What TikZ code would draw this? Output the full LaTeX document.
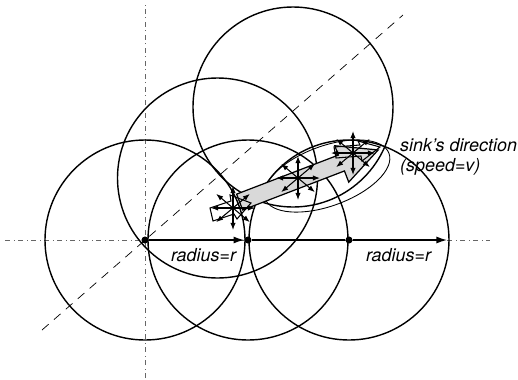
\documentclass[tikz,border=0pt]{standalone}
\usepackage{fontspec}
\setsansfont{TeX Gyre Heros}
\usetikzlibrary{arrows.meta}

\begin{document}
\begin{tikzpicture}[
    rangeline/.style={line width=0.8pt},
    axis/.style={line width=0.4pt, black!60, dash dot},
    dot/.style={circle, fill=black, inner sep=0pt, minimum size=4pt},
    lbl/.style={font=\sffamily\itshape\fontsize{10.2}{12}\selectfont},
    move/.style={line width=0.6pt, {Latex[length=4pt,width=3pt]}-{Latex[length=4pt,width=3pt]}}
  ]
  \useasboundingbox (-2.9,-2.78) rectangle (7.46,4.8);

  % axes and the diagonal
  \draw [axis] (-2.8,0) -- (6.9,0);
  \draw [axis] (0,-2.76) -- (0,4.7);
  \draw [line width=0.4pt, dash pattern=on 5pt off 4pt] (-2.06,-1.8) -- (5.16,4.5);

  % transmission ranges
  \draw [rangeline] (0,0) circle (2);
  \draw [rangeline] (2.06,0) circle (2);
  \draw [rangeline] (4.08,0) circle (2);
  \draw [rangeline] (1.45,1.24) circle (2);
  \draw [rangeline] (2.96,2.66) circle (2);

  % area of the moving sink
  \draw [line width=0.5pt, rotate around={20:(3.64,1.28)}] (3.64,1.28) ellipse (1.32 and 0.6);

  \begin{scope}[shift={(1.9,0.74)}, rotate=21]
    \draw [fill=gray!30, line width=0.7pt] (0,-0.15) -- (2.18,-0.15) -- (2.18,-0.39)
      -- (2.96,0) -- (2.18,0.39) -- (2.18,0.19) -- (0,0.19) -- cycle;
  \end{scope}

  % sink positions
  \coordinate (s1) at (1.76,0.64);
  \coordinate (s2) at (3.06,1.24);
  \coordinate (s3) at (4.16,1.74);

  \draw [line width=0.6pt] (1.36,0.38) -- (1.78,0.52) -- (1.84,0.42) -- (2.12,0.74)
    -- (1.7,0.9) -- (1.72,0.78) -- (1.3,0.64) -- cycle;
  \draw [line width=0.6pt] (3.78,1.86) -- (4.3,1.9) -- (4.26,1.98) -- (4.7,1.86)
    -- (4.34,1.58) -- (4.32,1.68) -- (3.82,1.64) -- cycle;

  \foreach \s in {s1,s2,s3}
    \foreach \a in {0,40,90,140}
      \draw [move] ([shift={(\a:-0.44)}]\s) -- ([shift={(\a:0.44)}]\s);

  % sink's moving distance
  \node [dot] (c0) at (0,0) {};
  \node [dot] (c1) at (2.06,0) {};
  \node [dot] (c2) at (4.08,0) {};
  \coordinate (end) at (6.04,0);
  \draw [rangeline, -{Latex[length=6pt,width=4pt]}] (c0) -- (c1);
  \draw [rangeline] (c1) -- (c2);
  \draw [rangeline, -{Latex[length=6pt,width=4pt]}] (c2) -- (end);

  \node [lbl] (r1) at (1.17,-0.3) {radius=r};
  \node [lbl] (r2) at (5.07,-0.3) {radius=r};
  \node [lbl, anchor=west] (dir) at (4.98,1.9) {sink's direction};
  \node [lbl, anchor=west] (spd) at (4.98,1.46) {(speed=v)};

\end{tikzpicture}
\end{document}
